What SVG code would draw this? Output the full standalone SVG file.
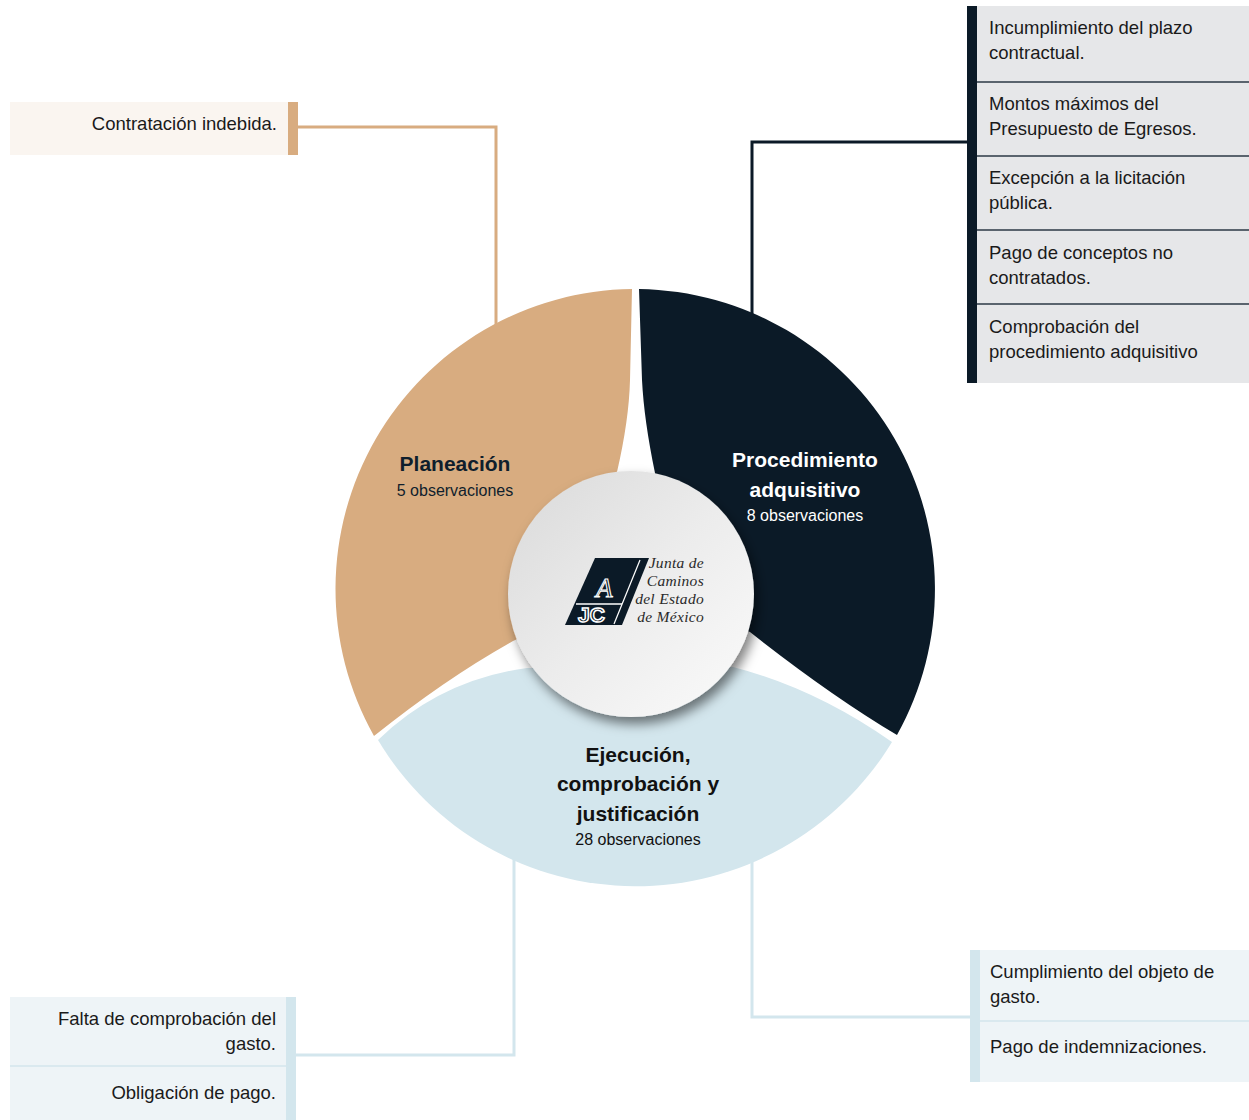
<svg xmlns="http://www.w3.org/2000/svg" width="1249" height="1120" viewBox="0 0 1249 1120">
  <defs>
    <style>
      .box-text { font-family: "Liberation Sans", Arial, sans-serif; font-size: 18.5px; fill: #1a1a1a; }
      .seg-title { font-family: "Liberation Sans", Arial, sans-serif; font-size: 21px; font-weight: bold; text-anchor: middle; }
      .seg-sub { font-family: "Liberation Sans", Arial, sans-serif; font-size: 16px; text-anchor: middle; }
      .logo-text { font-family: "Liberation Serif", "Times New Roman", serif; font-style: italic; font-size: 15.5px; letter-spacing: 0.3px; fill: #2a2a2a; text-anchor: end; }
      .conn { fill: none; stroke-width: 3; }
    </style>
    <linearGradient id="centerGrad" x1="0" y1="0" x2="1" y2="1">
      <stop offset="0" stop-color="#d9d9d9"/>
      <stop offset="0.5" stop-color="#ececec"/>
      <stop offset="1" stop-color="#fbfbfb"/>
    </linearGradient>
    <filter id="shadow" x="-30%" y="-30%" width="160%" height="160%">
      <feDropShadow dx="4" dy="7" stdDeviation="6" flood-color="#000000" flood-opacity="0.5"/>
    </filter>
  </defs>

  <rect x="0" y="0" width="1249" height="1120" fill="#ffffff"/>

  <!-- Connectors -->
  <g id="connectors">
    <path class="conn" d="M298,127 H496 V330" stroke="#d8ac80"/>
    <path class="conn" d="M752,320 V142 H968" stroke="#0b1a27"/>
    <path class="conn" d="M514,855 V1055 H296" stroke="#d3e6ed"/>
    <path class="conn" d="M752,855 V1017 H971" stroke="#d3e6ed"/>
  </g>

  <!-- Segment: Planeación -->
  <g id="seg-planeacion">
    <path d="M632,289 A300,300 0 0 0 374,736 Q445,679 513,641 L622,592 L617,472 Q629,420 630,380 Z" fill="#d8ac80"/>
    <text class="seg-title" x="455" y="471" fill="#0f1e2c">Planeación</text>
    <text class="seg-sub" x="455" y="496" fill="#0f1e2c">5 observaciones</text>
  </g>

  <!-- Segment: Procedimiento adquisitivo -->
  <g id="seg-procedimiento">
    <path d="M639,289 A300,300 0 0 1 897,735 Q830,695 750,632 L642,592 L655,473 Q644,420 642,380 Z" fill="#0b1a27"/>
    <text class="seg-title" x="805" y="467" fill="#ffffff">Procedimiento</text>
    <text class="seg-title" x="805" y="497" fill="#ffffff">adquisitivo</text>
    <text class="seg-sub" x="805" y="521" fill="#ffffff">8 observaciones</text>
  </g>

  <!-- Segment: Ejecución -->
  <g id="seg-ejecucion">
    <path d="M378,740 A300,300 0 0 0 892,742 Q815,688 733,667 L527,668 Q440,680 378,740 Z" fill="#d3e6ed"/>
    <text class="seg-title" x="638" y="762" fill="#111111">Ejecución,</text>
    <text class="seg-title" x="638" y="791" fill="#111111">comprobación y</text>
    <text class="seg-title" x="638" y="821" fill="#111111">justificación</text>
    <text class="seg-sub" x="638" y="845" fill="#111111">28 observaciones</text>
  </g>

  <!-- Center logo -->
  <g id="center-logo">
    <circle cx="631" cy="594" r="123" fill="url(#centerGrad)" filter="url(#shadow)"/>
    <polygon points="595,558 649,558 622,625 565,625" fill="#0b1a27"/>
    <line x1="640" y1="560" x2="614" y2="624" stroke="#ffffff" stroke-width="1.2"/>
    <line x1="576" y1="604" x2="622" y2="604" stroke="#ffffff" stroke-width="1.5"/>
    <text x="596" y="597" font-family="Liberation Serif, serif" font-style="italic" font-size="27" fill="#0b1a27" stroke="#ffffff" stroke-width="1.1">A</text>
    <text x="578" y="622" font-family="Liberation Sans, Arial, sans-serif" font-weight="bold" font-size="21" fill="#0b1a27" stroke="#ffffff" stroke-width="1.5">JC</text>
    <text class="logo-text" x="704" y="568">Junta de</text>
    <text class="logo-text" x="704" y="586">Caminos</text>
    <text class="logo-text" x="704" y="604">del Estado</text>
    <text class="logo-text" x="704" y="622">de México</text>
  </g>

  <!-- Box: Contratación indebida -->
  <g id="box-planeacion">
    <rect x="10" y="102" width="278" height="53" fill="#faf5f0"/>
    <rect x="288" y="102" width="10" height="53" fill="#d8ac80"/>
    <text class="box-text" x="277" y="130" text-anchor="end">Contratación indebida.</text>
  </g>

  <!-- Box: Procedimiento adquisitivo items -->
  <g id="box-procedimiento">
    <rect x="977" y="6" width="272" height="377" fill="#e6e7e9"/>
    <rect x="967" y="6" width="10" height="377" fill="#0b1a27"/>
    <g stroke="#2b3844" stroke-width="1.5">
      <line x1="977" y1="82" x2="1249" y2="82"/>
      <line x1="977" y1="156" x2="1249" y2="156"/>
      <line x1="977" y1="230" x2="1249" y2="230"/>
      <line x1="977" y1="304" x2="1249" y2="304"/>
    </g>
    <text class="box-text" x="989" y="34">Incumplimiento del plazo</text>
    <text class="box-text" x="989" y="59">contractual.</text>
    <text class="box-text" x="989" y="110">Montos máximos del</text>
    <text class="box-text" x="989" y="135">Presupuesto de Egresos.</text>
    <text class="box-text" x="989" y="184">Excepción a la licitación</text>
    <text class="box-text" x="989" y="209">pública.</text>
    <text class="box-text" x="989" y="259">Pago de conceptos no</text>
    <text class="box-text" x="989" y="284">contratados.</text>
    <text class="box-text" x="989" y="333">Comprobación del</text>
    <text class="box-text" x="989" y="358">procedimiento adquisitivo</text>
  </g>

  <!-- Box: bottom-left -->
  <g id="box-ejecucion-left">
    <rect x="10" y="997" width="276" height="123" fill="#eef4f7"/>
    <rect x="286" y="997" width="10" height="123" fill="#d3e6ed"/>
    <line x1="10" y1="1066" x2="286" y2="1066" stroke="#d3e6ed" stroke-width="1.5"/>
    <text class="box-text" x="276" y="1025" text-anchor="end">Falta de comprobación del</text>
    <text class="box-text" x="276" y="1050" text-anchor="end">gasto.</text>
    <text class="box-text" x="276" y="1099" text-anchor="end">Obligación de pago.</text>
  </g>

  <!-- Box: bottom-right -->
  <g id="box-ejecucion-right">
    <rect x="980" y="950" width="269" height="132" fill="#eef4f7"/>
    <rect x="970" y="950" width="10" height="132" fill="#d3e6ed"/>
    <line x1="980" y1="1021" x2="1249" y2="1021" stroke="#d3e6ed" stroke-width="1.5"/>
    <text class="box-text" x="990" y="978">Cumplimiento del objeto de</text>
    <text class="box-text" x="990" y="1003">gasto.</text>
    <text class="box-text" x="990" y="1053">Pago de indemnizaciones.</text>
  </g>
</svg>
